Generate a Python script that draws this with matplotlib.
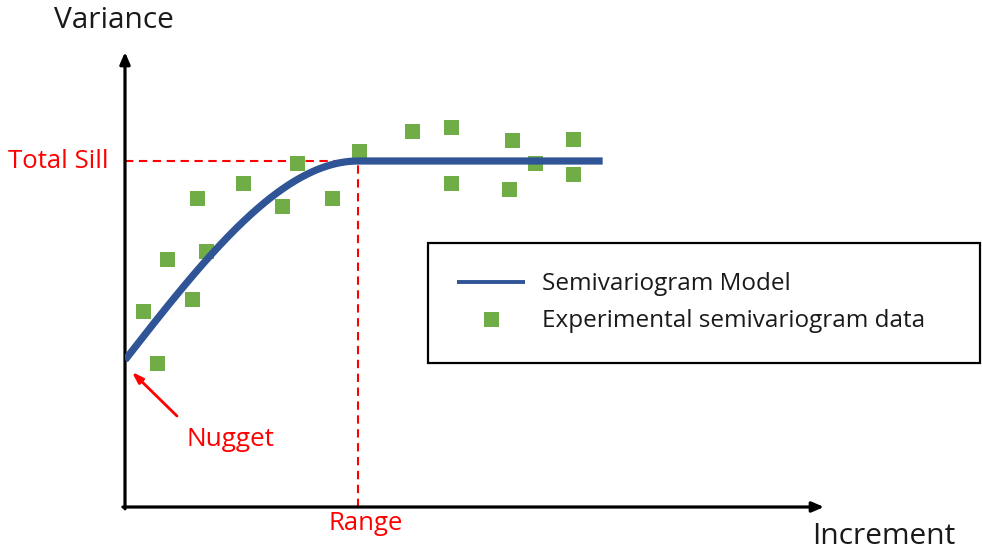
import matplotlib
matplotlib.use("Agg")
import matplotlib.pyplot as plt
import numpy as np

# ---- data (arbitrary units: lag distance vs semivariance) ----
lag = [0.77, 1.37, 1.80, 2.88, 3.09, 3.48, 5.06, 6.74, 7.38, 8.88, 10.04,
       12.32, 13.99, 13.99, 16.48, 16.61, 17.60, 19.23, 19.23]
semivar = [3.92, 2.88, 4.96, 4.16, 6.18, 5.12, 6.48, 6.02, 6.88, 6.18, 7.12,
           7.52, 7.60, 6.48, 6.36, 7.34, 6.88, 7.36, 6.66]
nugget = 2.94
sill = 6.92
model_range = 10.0
max_lag = 20.5

labels = {"y": "Variance", "x": "Increment", "sill": "Total Sill",
          "range": "Range", "nugget": "Nugget",
          "model": "Semivariogram Model", "data": "Experimental semivariogram data"}

BLUE = "#2F5597"
GREEN = "#70AD47"
RED = "#FF0000"
plt.rcParams['font.family'] = ['Open Sans', 'DejaVu Sans']
plt.rcParams['lines.scale_dashes'] = False

W, H = 982, 551
fig = plt.figure(figsize=(W / 100, H / 100), dpi=100)
# axes box: origin at pixel (125,507), x-arrow tip 824, y-arrow tip 52
x0, y0, x1, y1 = 125, 507, 824, 52
ax = fig.add_axes([x0 / W, 1 - y0 / H, (x1 - x0) / W, (y0 - y1) / H])
ax.set_xlim(0, 30)
ax.set_ylim(0, 9.1)
ax.axis('off')

# spherical model
h = np.linspace(0, max_lag, 400)
hr = np.clip(h / model_range, 0, 1)
gamma = nugget + (sill - nugget) * (1.5 * hr - 0.5 * hr ** 3)

# reference dashed lines
ax.plot([0, model_range], [sill, sill], color=RED, lw=1.5, dashes=(6, 4), zorder=2)
ax.plot([model_range, model_range], [0, sill], color=RED, lw=1.5, dashes=(6, 4), zorder=2)

ax.plot(lag, semivar, linestyle='none', marker='s', markersize=10.8,
        color=GREEN, markeredgewidth=0, label=labels["data"], zorder=3)
ax.plot(h, gamma, color=BLUE, lw=5.2, solid_capstyle='butt', label=labels["model"], zorder=4)

# axis arrows
arrow_kw = dict(arrowstyle='-|>,head_width=0.3,head_length=0.7', color='black', lw=2.3,
                shrinkA=0, shrinkB=0)
ax.annotate('', xy=(1, 0), xytext=(-0.003, 0), xycoords='axes fraction',
            arrowprops=arrow_kw, annotation_clip=False)
ax.annotate('', xy=(0, 1), xytext=(0, -0.004), xycoords='axes fraction',
            arrowprops=arrow_kw, annotation_clip=False)

def fx(px):
    return px / W

def fy(py):
    return 1 - py / H

fig.text(fx(114), fy(20), labels["y"], ha='center', va='center', fontsize=21.5, color='#1a1a1a')
fig.text(fx(884), fy(537), labels["x"], ha='center', va='center', fontsize=21.5, color='#1a1a1a')
fig.text(fx(8), fy(161), labels["sill"], ha='left', va='center', fontsize=18.5, color=RED)
fig.text(fx(366), fy(524), labels["range"], ha='center', va='center', fontsize=18.5, color=RED)

# nugget annotation
fig.text(fx(230), fy(439), labels["nugget"], ha='center', va='center', fontsize=18.8, color=RED)
ax.annotate('', xy=(0.30, 2.70), xytext=(2.23, 1.82), xycoords='data',
            arrowprops=dict(arrowstyle='-|>,head_width=0.22,head_length=0.65', color=RED, lw=2,
                            shrinkA=0, shrinkB=0),
            annotation_clip=False)

handles, lbls = ax.get_legend_handles_labels()
order = [1, 0]
leg = fig.legend([handles[i] for i in order], [lbls[i] for i in order],
                 loc='upper left', bbox_to_anchor=(fx(428), fy(243), fx(980) - fx(428), 0.0001),
                 mode='expand', borderaxespad=0, fontsize=17.5, frameon=True,
                 fancybox=False, edgecolor='black', framealpha=1, borderpad=1.2,
                 labelspacing=0.55, handlelength=2.8, handletextpad=0.7, numpoints=1)
leg.get_frame().set_linewidth(1.6)
leg.get_lines()[0].set_linewidth(2.8)
for t in leg.get_texts():
    t.set_color('#1a1a1a')

fig.savefig("out.png", dpi=100)
